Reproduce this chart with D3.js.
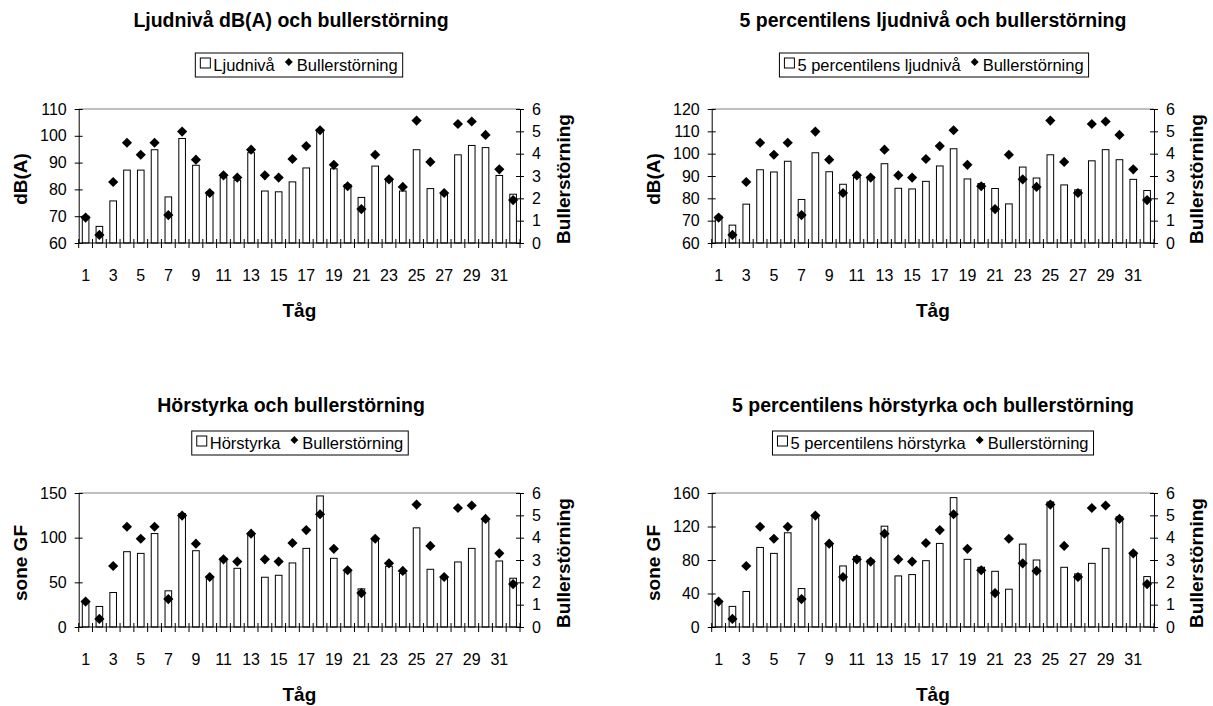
<!DOCTYPE html>
<html>
<head>
<meta charset="utf-8">
<script src="https://cdn.jsdelivr.net/npm/d3@7"></script>
<style>
  html, body { margin: 0; padding: 0; background: #fff; }
  svg { display: block; font-family: "Liberation Sans", Arial, sans-serif; }
</style>
</head>
<body>
<svg id="chart" width="1213" height="706"></svg>
<script>
// Train passages 1..32
const trains = d3.range(1, 33);

// Rated noise annoyance per passage (shared by all four panels)
const annoyance = [1.14, 0.36, 2.73, 4.49, 3.95, 4.49, 1.25, 4.99, 3.73, 2.24, 3.03, 2.93,
  4.18, 3.03, 2.93, 3.76, 4.34, 5.05, 3.5, 2.54, 1.52, 3.95, 2.85, 2.51,
  5.48, 3.63, 2.24, 5.33, 5.44, 4.84, 3.3, 1.92];

// Sound level dB(A)
const soundLevel = [70, 66.2, 75.7, 87.2, 87.2, 94.8, 77.2, 99.0, 89.0, 79.1, 84.4, 83.5,
  93.7, 79.4, 79.1, 82.8, 88.0, 101.8, 87.7, 81.8, 77.0, 88.7, 83.5, 79.4,
  94.8, 80.3, 78.7, 92.9, 96.4, 95.6, 85.2, 78.2];

// 5th percentile sound level dB(A)
const soundLevelP5 = [72, 68.0, 77.4, 92.8, 91.8, 96.6, 79.5, 100.4, 91.9, 86.3, 89.5, 89.7,
  95.5, 84.5, 84.2, 87.6, 94.5, 102.2, 88.7, 86.6, 84.4, 77.5, 94.0, 89.1,
  99.5, 86.0, 83.8, 96.8, 101.8, 97.3, 88.5, 83.5];

// Loudness, sone GF
const loudness = [28, 23, 38.6, 84.3, 82.4, 104.6, 40.5, 127, 85.4, 55, 76.9, 65.7,
  104, 55.7, 57.9, 71.7, 88.0, 146.7, 76.9, 63.1, 42.7, 98, 68, 60,
  111, 64.6, 55.3, 72.8, 88, 118.8, 73.9, 54.6];

// 5th percentile loudness, sone GF
const loudnessP5 = [30, 24.6, 42.4, 95, 87.9, 112.5, 45.9, 134, 100, 72.9, 84, 80,
  120.4, 61, 62.6, 79.2, 99.8, 154.5, 80.8, 71.3, 66.5, 45.1, 99, 80,
  149.3, 71.3, 63.4, 76, 93.9, 131.5, 89, 60.2];

// Axis ticks
const ticksDbA1 = [60, 70, 80, 90, 100, 110];
const ticksDbA2 = [60, 70, 80, 90, 100, 110, 120];
const ticksSone1 = [0, 50, 100, 150];
const ticksSone2 = [0, 40, 80, 120, 160];
const ticksAnnoy = [0, 1, 2, 3, 4, 5, 6];
const xTickLabels = trains.filter(d => d % 2 === 1);

const titles = [
  "Ljudnivå dB(A) och bullerstörning",
  "5 percentilens ljudnivå och bullerstörning",
  "Hörstyrka och bullerstörning",
  "5 percentilens hörstyrka och bullerstörning"
];
const barNames = ["Ljudnivå", "5 percentilens ljudnivå", "Hörstyrka", "5 percentilens hörstyrka"];
const pointName = "Bullerstörning";
const leftTitles = ["dB(A)", "dB(A)", "sone GF", "sone GF"];
const xTitle = "Tåg";

const panels = [
  { values: soundLevel,   ticks: ticksDbA1,  x0: 78.7,  x1: 520,  top: 109, bottom: 243, title: titles[0], name: barNames[0], yTitle: leftTitles[0], titleX: 291, legX: 299, leftTX: 20,  rightTX: 563,  titleY: 27,  legTop: 53 },
  { values: soundLevelP5, ticks: ticksDbA2,  x0: 711.7, x1: 1154, top: 109, bottom: 243, title: titles[1], name: barNames[1], yTitle: leftTitles[1], titleX: 933, legX: 934, leftTX: 653, rightTX: 1196, titleY: 27,  legTop: 53 },
  { values: loudness,     ticks: ticksSone1, x0: 78.7,  x1: 520,  top: 493, bottom: 627, title: titles[2], name: barNames[2], yTitle: leftTitles[2], titleX: 291, legX: 300, leftTX: 20,  rightTX: 563,  titleY: 412, legTop: 431 },
  { values: loudnessP5,   ticks: ticksSone2, x0: 711.7, x1: 1154, top: 493, bottom: 627, title: titles[3], name: barNames[3], yTitle: leftTitles[3], titleX: 933, legX: 933, leftTX: 653, rightTX: 1196, titleY: 412, legTop: 431 }
];

const svg = d3.select("#chart");
const diamond = d3.symbol().type(d3.symbolDiamond2).size(66);
const legendDiamond = d3.symbol().type(d3.symbolDiamond2).size(40);

panels.forEach(p => {
  const g = svg.append("g");

  const x = d3.scaleBand().domain(trains).range([p.x0, p.x1]).paddingInner(0.52).paddingOuter(0.26);
  const xb = d3.scaleBand().domain(trains).range([p.x0, p.x1]);
  const y = d3.scaleLinear().domain(d3.extent(p.ticks)).range([p.bottom, p.top]);
  const y2 = d3.scaleLinear().domain([0, 6]).range([p.bottom, p.top]);

  // top frame edge
  g.append("line").attr("x1", p.x0).attr("x2", p.x1).attr("y1", p.top).attr("y2", p.top)
    .attr("stroke", "#808080").attr("stroke-width", 1);

  // bars
  g.selectAll("rect.bar").data(p.values).enter().append("rect")
    .attr("class", "bar")
    .attr("x", (d, i) => x(trains[i]))
    .attr("width", x.bandwidth())
    .attr("y", d => y(d))
    .attr("height", d => p.bottom - y(d))
    .attr("fill", "#fff").attr("stroke", "#000").attr("stroke-width", 1);

  // left axis
  const yAxis = d3.axisLeft(y).tickValues(p.ticks).tickFormat(d3.format("d")).tickSizeInner(4).tickSizeOuter(0).tickPadding(8);
  const ga = g.append("g").attr("transform", `translate(${p.x0},0)`).call(yAxis);
  ga.selectAll(".tick line").attr("x2", 4).attr("x1", -4);
  // right axis
  const y2Axis = d3.axisRight(y2).tickValues(ticksAnnoy).tickFormat(d3.format("d")).tickSizeInner(4).tickSizeOuter(0).tickPadding(8);
  const gr = g.append("g").attr("transform", `translate(${p.x1},0)`).call(y2Axis);
  gr.selectAll(".tick line").attr("x1", -4).attr("x2", 4);
  // bottom axis: ticks at category boundaries, labels on odd categories
  const gx = g.append("g").attr("transform", `translate(0,${p.bottom})`);
  gx.append("line").attr("x1", p.x0).attr("x2", p.x1).attr("stroke", "#000");
  const bounds = trains.map(t => xb(t)).concat([p.x1]);
  gx.selectAll("line.tk").data(bounds).enter().append("line").attr("class", "tk")
    .attr("x1", d => d).attr("x2", d => d).attr("y1", -4).attr("y2", 5).attr("stroke", "#000");
  gx.selectAll("text").data(xTickLabels).enter().append("text")
    .attr("x", d => xb(d) + xb.bandwidth() / 2).attr("y", 38)
    .attr("text-anchor", "middle").attr("font-size", 16).text(d => d);

  [ga, gr].forEach(a => {
    a.selectAll("path.domain").attr("stroke", "#000");
    a.selectAll(".tick line").attr("stroke", "#000");
    a.selectAll("text").attr("font-size", 16).attr("font-family", "Liberation Sans, Arial, sans-serif").attr("fill", "#000");
  });

  // annoyance points
  g.selectAll("path.pt").data(annoyance).enter().append("path")
    .attr("class", "pt")
    .attr("d", diamond)
    .attr("transform", (d, i) => `translate(${xb(trains[i]) + xb.bandwidth() / 2},${y2(d)})`)
    .attr("fill", "#000");

  // titles
  g.append("text").attr("x", p.titleX).attr("y", p.titleY).attr("text-anchor", "middle")
    .attr("font-size", 19.5).attr("font-weight", "bold").text(p.title);
  g.append("text").attr("x", (p.x0 + p.x1) / 2).attr("y", p.bottom + 74).attr("text-anchor", "middle")
    .attr("font-size", 19).attr("font-weight", "bold").text(xTitle);
  const cy = (p.top + p.bottom) / 2 + 3;
  g.append("text").attr("transform", `translate(${p.leftTX + 7},${cy}) rotate(-90)`).attr("text-anchor", "middle")
    .attr("font-size", 19).attr("font-weight", "bold").text(p.yTitle);
  g.append("text").attr("transform", `translate(${p.rightTX + 7},${cy}) rotate(-90)`).attr("text-anchor", "middle")
    .attr("font-size", 19).attr("font-weight", "bold").text(pointName);

  // legend
  const lg = g.append("g");
  const box = lg.append("rect").attr("fill", "#fff").attr("stroke", "#000");
  const t1 = lg.append("text").attr("font-size", 16.5).text(p.name);
  const t2 = lg.append("text").attr("font-size", 16.5).text(pointName);
  const w1 = t1.node().getComputedTextLength();
  const w2 = t2.node().getComputedTextLength();
  const sym = 10, gap1 = 3, gap2 = 9, pad = 5;
  const total = pad + sym + gap1 + w1 + gap2 + sym + gap1 + w2 + pad;
  const lx = p.legX - total / 2, lh = 24, ly = p.legTop;
  box.attr("x", lx).attr("y", ly).attr("width", total).attr("height", lh);
  const midY = ly + lh / 2;
  lg.append("rect").attr("x", lx + pad).attr("y", midY - sym / 2 - 2).attr("width", sym).attr("height", sym)
    .attr("fill", "#fff").attr("stroke", "#000");
  t1.attr("x", lx + pad + sym + gap1).attr("y", midY + 6);
  const dx = lx + pad + sym + gap1 + w1 + gap2 + sym / 2;
  lg.append("path").attr("d", legendDiamond).attr("transform", `translate(${dx},${midY - 3})`).attr("fill", "#000");
  t2.attr("x", dx + sym / 2 + gap1).attr("y", midY + 6);
});
</script>
</body>
</html>
